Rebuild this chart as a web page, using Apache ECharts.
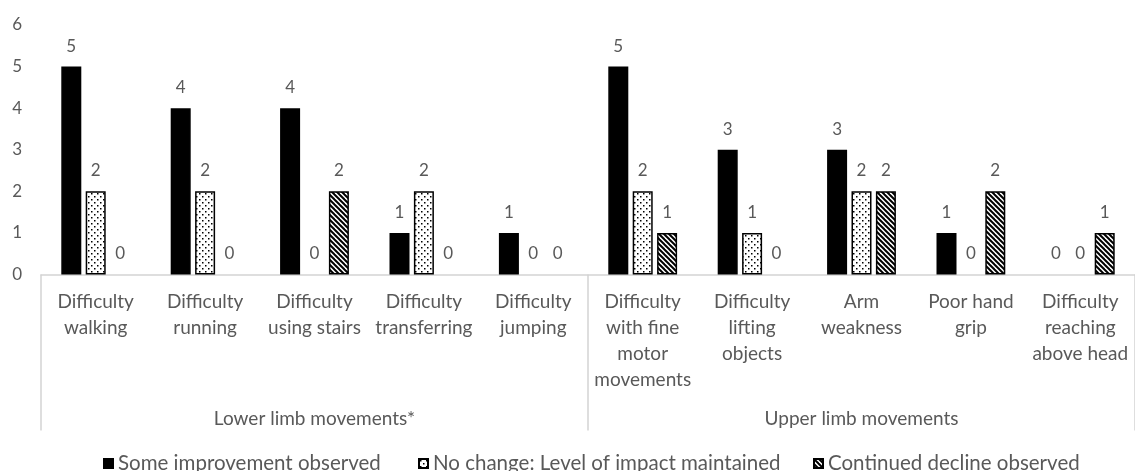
<!DOCTYPE html>
<html>
<head>
<meta charset="utf-8">
<script src="https://cdn.jsdelivr.net/npm/echarts@6/dist/echarts.min.js"></script>
<style>
  html, body { margin: 0; padding: 0; background: #fff; }
  #chart { width: 1135px; height: 471px; }
</style>
</head>
<body>
<div id="chart"></div>
<script>
// Movement items (wrapped as they appear under the axis)
const categories = [
  'Difficulty\nwalking',
  'Difficulty\nrunning',
  'Difficulty\nusing stairs',
  'Difficulty\ntransferring',
  'Difficulty\njumping',
  'Difficulty\nwith fine\nmotor\nmovements',
  'Difficulty\nlifting\nobjects',
  'Arm\nweakness',
  'Poor hand\ngrip',
  'Difficulty\nreaching\nabove head'
];
const groups = ['Lower limb movements*', 'Upper limb movements'];

const seriesNames = [
  'Some improvement observed',
  'No change: Level of impact maintained',
  'Continued decline observed'
];
const improvement = [5, 4, 4, 1, 1, 5, 3, 3, 1, 0];
const noChange    = [2, 2, 0, 2, 0, 2, 1, 2, 0, 0];
const decline     = [0, 0, 2, 0, 0, 1, 0, 2, 2, 1];

const yTicks = { min: 0, max: 6, interval: 1 };

const TEXT = '#595959';
const LINE = '#d4d4d4';
const FONT = 'Lato, "Open Sans", sans-serif';

// Fill patterns: dotted and dark diagonal hatch
function dotPattern() {
  const c = document.createElement('canvas');
  c.width = 6; c.height = 6;
  const g = c.getContext('2d');
  g.fillStyle = '#fff'; g.fillRect(0, 0, 6, 6);
  g.fillStyle = '#000';
  g.fillRect(1, 1, 1.5, 1.5);
  g.fillRect(4, 4, 1.5, 1.5);
  return c;
}
function hatchPattern() {
  const s = 5;
  const c = document.createElement('canvas');
  c.width = s; c.height = s;
  const g = c.getContext('2d');
  g.fillStyle = '#fff'; g.fillRect(0, 0, s, s);
  g.strokeStyle = '#000'; g.lineWidth = 2;
  for (const k of [-s, 0, s]) {
    g.beginPath();
    g.moveTo(-1, -1 + k);
    g.lineTo(s + 1, s + 1 + k);
    g.stroke();
  }
  return c;
}

const fills = [
  '#000',
  { image: dotPattern(), repeat: 'repeat' },
  { image: hatchPattern(), repeat: 'repeat' }
];

// Zero-height bars are left without an outline
function toItems(arr) {
  return arr.map(v => v === 0 ? { value: v, itemStyle: { borderWidth: 0 } } : v);
}

const chart = echarts.init(document.getElementById('chart'));

const series = [improvement, noChange, decline].map((arr, i) => ({
  name: seriesNames[i],
  type: 'bar',
  barWidth: 20,
  barGap: '22%',
  data: toItems(arr),
  itemStyle: { color: fills[i], borderColor: '#000', borderWidth: 1.5 },
  label: {
    show: true,
    position: 'top',
    distance: 12,
    color: TEXT,
    fontSize: 17,
    fontFamily: FONT
  },
  emphasis: { disabled: true }
}));

// One legend entry per series, spaced along the bottom
const legendLeft = [98, 413, 808];
const legends = seriesNames.map((name, i) => ({
  data: [name],
  left: legendLeft[i],
  top: 448,
  itemWidth: 9,
  itemHeight: 9,
  icon: 'rect',
  selectedMode: false,
  textStyle: { color: TEXT, fontSize: 20.5, fontFamily: FONT }
}));

chart.setOption({
  animation: false,
  grid: { left: 41, top: 25, width: 1098, height: 249.5 },
  legend: legends,
  xAxis: [
    {
      type: 'category',
      data: categories,
      position: 'bottom',
      axisLine: { show: true, lineStyle: { color: LINE, width: 1.5 } },
      axisTick: { show: false },
      axisLabel: {
        interval: 0,
        margin: 14,
        color: TEXT,
        fontSize: 19,
        lineHeight: 26,
        fontFamily: FONT,
        verticalAlign: 'top'
      }
    },
    {
      type: 'category',
      data: groups,
      position: 'bottom',
      axisLine: { show: false },
      axisTick: { show: true, length: 156, lineStyle: { color: LINE, width: 1.5 } },
      axisLabel: {
        interval: 0,
        margin: 135,
        color: TEXT,
        fontSize: 19,
        fontFamily: FONT,
        verticalAlign: 'top'
      }
    }
  ],
  yAxis: {
    type: 'value',
    min: yTicks.min,
    max: yTicks.max,
    interval: yTicks.interval,
    axisLine: { show: false },
    axisTick: { show: false },
    splitLine: { show: false },
    axisLabel: { margin: 19, color: TEXT, fontSize: 17, fontFamily: FONT }
  },
  series: series
});
</script>
</body>
</html>
